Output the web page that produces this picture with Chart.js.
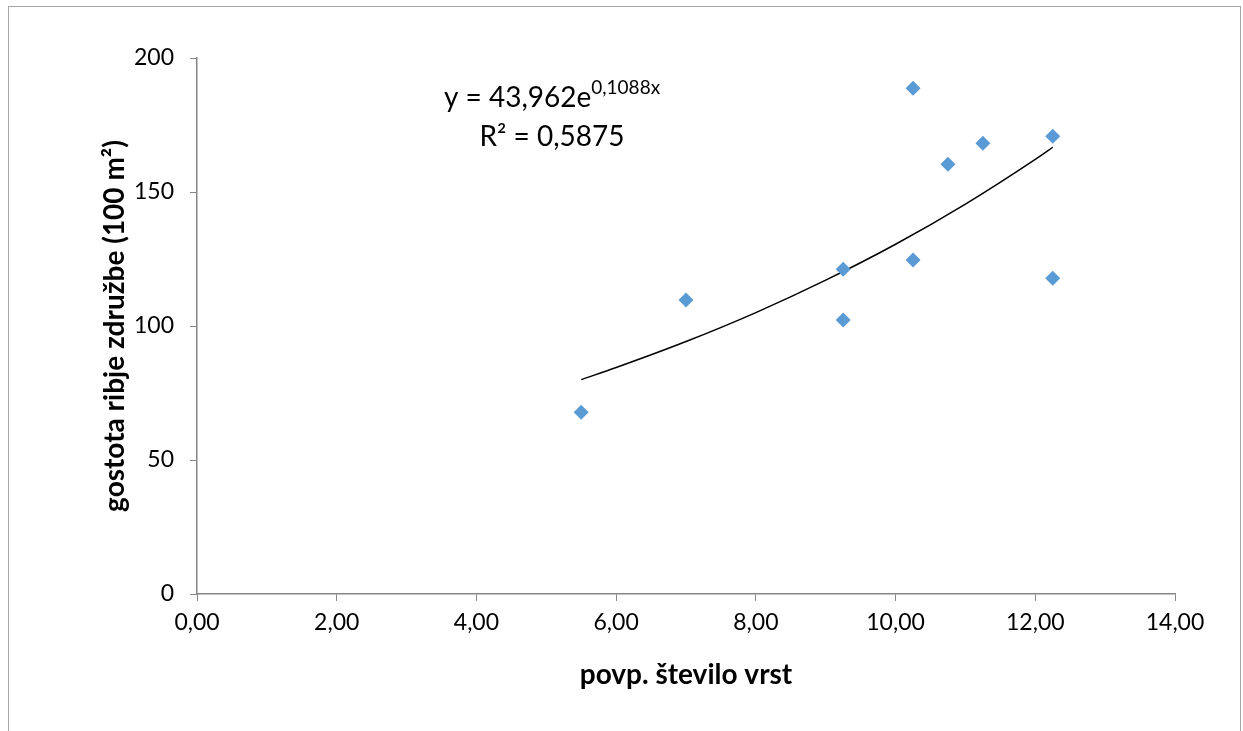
<!DOCTYPE html>
<html><head><meta charset="utf-8">
<script src="https://cdn.jsdelivr.net/npm/chart.js@4.4.1/dist/chart.umd.min.js"></script>
<style>html,body{margin:0;padding:0;background:#fff;}#wrap{width:1243px;height:731px;position:relative;}</style>
</head><body><div id="wrap"><canvas id="c" width="1243" height="731"></canvas></div>
<script>
// Observed data
const speciesX = [5.5, 7.0, 9.25, 9.25, 10.25, 10.25, 10.75, 11.25, 12.25, 12.25];
const densityY = [67.8, 109.7, 121.2, 102.2, 188.7, 124.6, 160.4, 168.2, 170.8, 117.8];
// Trendline samples
const trendX = [5.5, 6, 7, 8, 9, 10, 11, 12, 12.25];
const trendY = [80.0, 84.5, 94.2, 105.0, 117.1, 130.5, 145.5, 162.2, 166.7];
const eqMain = 'y = 43,962e';
const eqSup = '0,1088x';
const eqR2 = 'R² = 0,5875';
const xTitle = 'povp. število vrst';
const yTitle = 'gostota ribje združbe (100 m²)';

const FONT = 'Lato, "Open Sans", sans-serif';
const AXIS = '#868686';

const frame = {
  id: 'frame',
  afterDraw(chart) {
    const ctx = chart.ctx;
    ctx.save();
    ctx.strokeStyle = '#a6a6a6';
    ctx.lineWidth = 1;
    ctx.strokeRect(8.5, 6.5, 1232, 760);
    // trendline equation
    ctx.fillStyle = '#000';
    ctx.textBaseline = 'middle';
    ctx.font = '28px ' + FONT;
    const mainW = ctx.measureText(eqMain).width;
    ctx.font = '19px ' + FONT;
    const supW = ctx.measureText(eqSup).width;
    const cx = 552;
    const startX = cx - (mainW + supW) / 2;
    ctx.font = '28px ' + FONT;
    ctx.textAlign = 'left';
    ctx.fillText(eqMain, startX, 98);
    ctx.font = '19px ' + FONT;
    ctx.fillText(eqSup, startX + mainW, 88);
    ctx.font = '28px ' + FONT;
    ctx.textAlign = 'center';
    ctx.fillText(eqR2, cx, 137);
    ctx.restore();
  }
};

new Chart(document.getElementById('c'), {
  data: {
    datasets: [
      {
        type: 'scatter',
        data: speciesX.map((x, i) => ({x, y: densityY[i]})),
        pointStyle: 'rectRot',
        pointRadius: 7.5,
        pointHoverRadius: 7.5,
        backgroundColor: '#5B9BD5',
        borderColor: '#5B9BD5',
        borderWidth: 0,
        order: 1
      },
      {
        type: 'line',
        data: trendX.map((x, i) => ({x, y: trendY[i]})),
        borderColor: '#000',
        borderWidth: 1.5,
        pointRadius: 0,
        fill: false,
        cubicInterpolationMode: 'monotone',
        order: 2
      }
    ]
  },
  options: {
    responsive: false,
    animation: false,
    devicePixelRatio: 1,
    layout: {padding: {left: 0, right: 68, top: 58, bottom: 0}},
    plugins: {legend: {display: false}, tooltip: {enabled: false}},
    scales: {
      x: {
        type: 'linear', min: 0, max: 14,
        afterFit(s) { s.height = 137; },
        ticks: {stepSize: 2, color: '#000', font: {family: FONT, size: 23}, padding: 8,
          callback: v => v.toFixed(2).replace('.', ',')},
        grid: {drawOnChartArea: false, drawTicks: true, tickLength: 7, color: AXIS},
        border: {color: AXIS, width: 1.5},
        title: {display: true, text: xTitle, color: '#000', font: {family: FONT, size: 28, weight: 'bold'}, padding: {top: 0, bottom: 39}}
      },
      y: {
        type: 'linear', min: 0, max: 200,
        afterFit(s) { s.width = 197; },
        ticks: {stepSize: 50, color: '#000', font: {family: FONT, size: 23}, padding: 16},
        grid: {drawOnChartArea: false, drawTicks: true, tickLength: 7, color: AXIS},
        border: {color: AXIS, width: 1.5},
        title: {display: true, text: yTitle, color: '#000', font: {family: FONT, size: 28, weight: 'bold'}, padding: {top: 98, bottom: 0}}
      }
    }
  },
  plugins: [frame]
});
</script></body></html>
